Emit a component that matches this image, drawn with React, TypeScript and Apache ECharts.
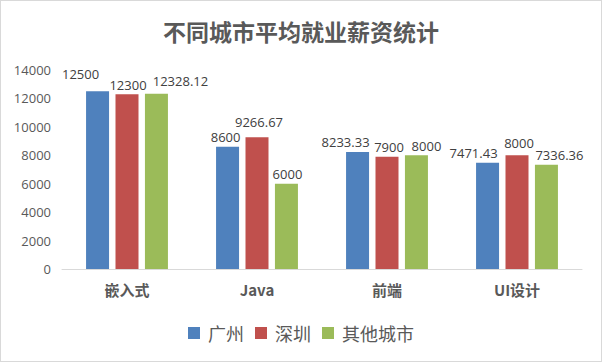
import React, { useEffect, useRef } from "react";
import * as echarts from "echarts";

const categories = ["嵌入式", "Java", "前端", "UI设计"];
const seriesNames = ["广州", "深圳", "其他城市"];
const guangzhou = [12500, 8600, 8233.33, 7471.43];
const shenzhen = [12300, 9266.67, 7900, 8000];
const others = [12328.12, 6000, 8000, 7336.36];
const colors = ["#4F81BD", "#C0504D", "#9BBB59"];

// label nudges (style only), per series per category, in px
const labelOffsets: number[][][] = [
  [[-17, -8], [-2, 0], [-12, 0], [-14, 0]],
  [[1, 0], [2, -6], [2, 0], [2, -3]],
  [[24, -3], [1, 0], [10, 0], [13, 0]],
];

export default function App() {
  const ref = useRef<HTMLDivElement>(null);
  useEffect(() => {
    document.body.style.margin = "0";
    const chart = echarts.init(ref.current!, null, { renderer: "svg" });
    const font = "'Noto Sans CJK SC', 'Liberation Sans', sans-serif";
    const numFont = "'Open Sans', 'Liberation Sans', sans-serif";
    const mk = (name: string, data: number[], i: number) => ({
      name,
      type: "bar",
      data: data.map((v, j) => ({ value: v, label: { offset: labelOffsets[i][j] } })),
      barWidth: 23,
      barGap: "28%",
      itemStyle: { color: colors[i] },
      label: {
        show: true,
        position: "top",
        distance: 3,
        color: "#404040",
        fontSize: 13,
        fontFamily: numFont,
        formatter: (p: any) => String(p.value),
      },
    });
    chart.setOption({
      animation: false,
      backgroundColor: "#fff",
      textStyle: { fontFamily: font },
      title: {
        text: "不同城市平均就业薪资统计",
        left: "center",
        top: 13,
        textStyle: { fontSize: 23, fontWeight: "bold", color: "#595959", fontFamily: font },
      },
      legend: {
        bottom: 14,
        left: "center",
        itemWidth: 12,
        itemHeight: 12,
        itemGap: 11,
        icon: "rect",
        textStyle: { fontSize: 18, color: "#595959", fontFamily: font, padding: [0, 0, 0, 3] },
        data: seriesNames,
      },
      grid: { left: 61, right: 19, top: 69, bottom: 92, containLabel: false },
      xAxis: {
        type: "category",
        data: categories,
        axisLine: { lineStyle: { color: "#d9d9d9" } },
        axisTick: { show: false },
        axisLabel: { color: "#595959", fontSize: 15, fontWeight: "bold", margin: 13, fontFamily: font },
      },
      yAxis: {
        type: "value",
        min: 0,
        max: 14000,
        interval: 2000,
        splitLine: { show: false },
        axisLine: { show: false },
        axisTick: { show: false },
        axisLabel: {
          color: "#595959",
          fontSize: 13,
          margin: 11,
          fontFamily: numFont,
          formatter: (v: number) => String(v),
        },
      },
      series: [mk(seriesNames[0], guangzhou, 0), mk(seriesNames[1], shenzhen, 1), mk(seriesNames[2], others, 2)],
    });
    return () => chart.dispose();
  }, []);
  return (
    <div
      ref={ref}
      style={{
        position: "fixed",
        left: 0,
        top: 0,
        width: 602,
        height: 362,
        boxSizing: "border-box",
        border: "1px solid #d9d9d9",
      }}
    />
  );
}
